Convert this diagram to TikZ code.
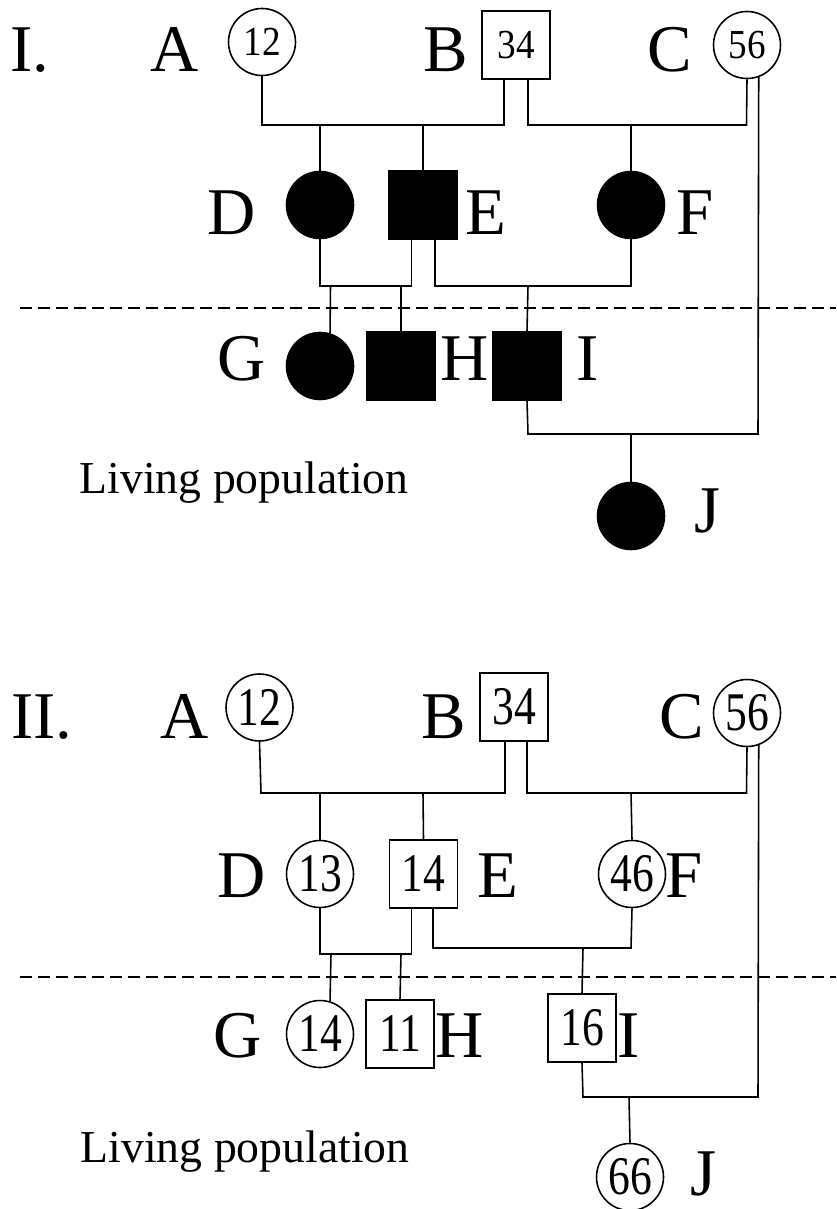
\documentclass[tikz,border=0pt]{standalone}
\usepackage{fontspec}
\setmainfont{Liberation Serif}
\newcommand\thinnum[2]{\scalebox{#1}[1]{#2}}
\begin{document}
\begin{tikzpicture}[x=0.02cm,y=-0.02cm,line width=0.9pt,
  fem/.style={circle,draw,minimum size=1.34cm,inner sep=0pt},
  mal/.style={rectangle,draw,minimum size=1.36cm,inner sep=0pt},
  aff/.style={fill=black},
  lbl/.style={anchor=base,inner sep=0pt,font=\fontsize{38}{38}\selectfont},
  numa/.style={font=\fontsize{23.5}{24}\selectfont},
  numb/.style={font=\fontsize{31}{31}\selectfont},
  poptext/.style={anchor=base west,inner sep=0pt,font=\fontsize{26}{26}\selectfont},
  cutline/.style={dash pattern=on 0.24cm off 0.12cm}]
\useasboundingbox (0,0) rectangle (836,1209);

% ---------- Panel I ----------
\node[lbl] (t1) at (30,72) {I.};
\node[fem,numa] (A1) at (262,42) {\thinnum{0.9}{12}};
\node[mal,numa] (B1) at (516,45) {\thinnum{0.9}{34}};
\node[fem,numa] (C1) at (747,45) {\thinnum{0.9}{56}};
\node[fem,aff] (D1) at (320,205) {};
\node[mal,aff] (E1) at (423,205) {};
\node[fem,aff] (F1) at (631,205) {};
\node[fem,aff] (G1) at (320,366) {};
\node[mal,aff] (H1) at (401,366) {};
\node[mal,aff] (I1) at (527,366) {};
\node[fem,aff] (J1) at (631,516) {};

\node[lbl] (lA1) at (175,72) {A};
\node[lbl] (lB1) at (446,72) {B};
\node[lbl] (lC1) at (670,72) {C};
\node[lbl] (lD1) at (232,235) {D};
\node[lbl] (lE1) at (486,235) {E};
\node[lbl] (lF1) at (695,235) {F};
\node[lbl] (lG1) at (242,380) {G};
\node[lbl] (lH1) at (465,380) {H};
\node[lbl] (lI1) at (588,380) {I};
\node[lbl] (lJ1) at (707,532) {J};
\node[poptext] (pop1) at (79,493) {Living population};

% mating bars and sibship lines
\coordinate (ab1L) at (262,125);
\coordinate (ab1R) at (504,125);
\coordinate (bc1L) at (528,125);
\coordinate (bc1R) at (746.5,125);
\coordinate (d1k) at (320,125);
\coordinate (e1k) at (423,125);
\coordinate (f1k) at (631,125);
\coordinate (de1L) at (320,286);
\coordinate (de1R) at (411.5,286);
\coordinate (ef1L) at (435,286);
\coordinate (ef1R) at (631,286);
\coordinate (g1k) at (330.5,286);
\coordinate (h1k) at (401,286);
\coordinate (i1k) at (528,286);
\coordinate (ic1R) at (758,434);
\coordinate (ic1L) at (528,434);
\coordinate (j1k) at (631,434);

\draw (A1.south) -- (ab1L) -- (ab1R) -- (ab1R |- B1.south);
\draw (bc1L |- B1.south) -- (bc1L) -- (bc1R) -- (C1.south);
\draw (d1k) -- (D1.north);
\draw (e1k) -- (E1.north);
\draw (f1k) -- (F1.north);
\draw (D1.south) -- (de1L) -- (de1R) -- (de1R |- E1.south);
\draw (ef1L |- E1.south) -- (ef1L) -- (ef1R) -- (F1.south);
\draw (g1k) -- (G1.73);
\draw (h1k) -- (H1.north);
\draw (i1k) -- (I1.north);
\draw (C1.-70) -- (ic1R) -- (ic1L) -- (I1.south);
\draw (j1k) -- (J1.north);

\coordinate (cut1a) at (20,308);
\coordinate (cut1b) at (836,308);
\draw[cutline] (cut1a) -- (cut1b);

% ---------- Panel II ----------
\node[lbl] (t2) at (42,738) {II.};
\node[fem,numb] (A2) at (259.5,707.5) {\thinnum{0.8}{12}};
\node[mal,numb] (B2) at (514,707) {\thinnum{0.8}{34}};
\node[fem,numb] (C2) at (747,713) {\thinnum{0.8}{56}};
\node[fem,numb] (D2) at (320,874) {\thinnum{0.8}{13}};
\node[mal,numb] (E2) at (423.5,874) {\thinnum{0.8}{14}};
\node[fem,numb] (F2) at (632,874) {\thinnum{0.8}{46}};
\node[fem,numb] (G2) at (320,1034) {\thinnum{0.8}{14}};
\node[mal,numb] (H2) at (400,1034) {\thinnum{0.8}{11}};
\node[mal,numb] (I2) at (582,1028) {\thinnum{0.8}{16}};
\node[fem,numb] (J2) at (630,1177) {\thinnum{0.8}{66}};

\node[lbl] (lA2) at (185,738) {A};
\node[lbl] (lB2) at (444,738) {B};
\node[lbl] (lC2) at (682,738) {C};
\node[lbl] (lD2) at (242,897) {D};
\node[lbl] (lE2) at (498,897) {E};
\node[lbl] (lF2) at (684,897) {F};
\node[lbl] (lG2) at (238,1057) {G};
\node[lbl] (lH2) at (460,1057) {H};
\node[lbl] (lI2) at (629,1057) {I};
\node[lbl] (lJ2) at (703,1195) {J};
\node[poptext] (pop2) at (80,1162) {Living population};

\coordinate (ab2L) at (261,793);
\coordinate (ab2R) at (505,793);
\coordinate (bc2L) at (527,793);
\coordinate (bc2R) at (746.5,793);
\coordinate (d2k) at (320,793);
\coordinate (e2k) at (423,793);
\coordinate (f2k) at (631,793);
\coordinate (de2L) at (320,954);
\coordinate (de2R) at (411.5,954);
\coordinate (ef2L) at (433,948);
\coordinate (ef2R) at (631,948);
\coordinate (g2k) at (331,954);
\coordinate (h2k) at (401,954);
\coordinate (i2k) at (583,948);
\coordinate (ic2R) at (758,1097);
\coordinate (ic2L) at (583,1097);
\coordinate (j2k) at (629,1097);

\draw (A2.south) -- (ab2L) -- (ab2R) -- (ab2R |- B2.south);
\draw (bc2L |- B2.south) -- (bc2L) -- (bc2R) -- (C2.south);
\draw (d2k) -- (D2.north);
\draw (e2k) -- (E2.north);
\draw (f2k) -- (F2.north);
\draw (D2.south) -- (de2L) -- (de2R) -- (de2R |- E2.south);
\draw (ef2L |- E2.south) -- (ef2L) -- (ef2R) -- (F2.south);
\draw (g2k) -- (G2.73);
\draw (h2k) -- (H2.north);
\draw (i2k) -- (I2.north);
\draw (C2.-70) -- (ic2R) -- (ic2L) -- (I2.south);
\draw (j2k) -- (J2.north);

\coordinate (cut2a) at (20,977);
\coordinate (cut2b) at (836,977);
\draw[cutline] (cut2a) -- (cut2b);
\end{tikzpicture}
\end{document}
